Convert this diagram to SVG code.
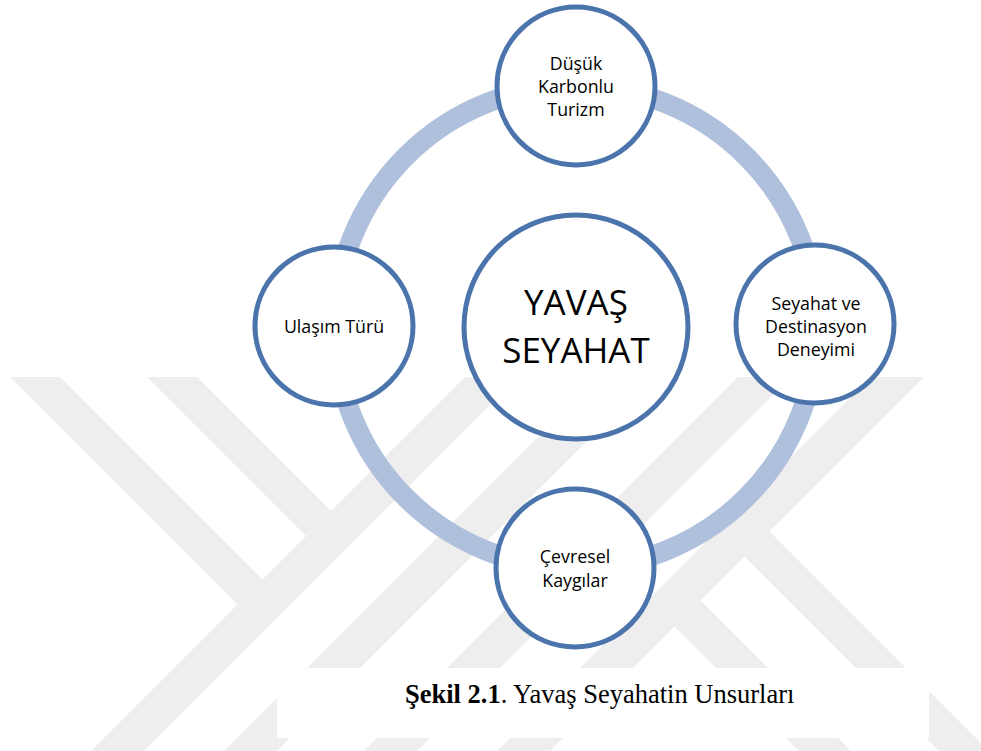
<svg xmlns="http://www.w3.org/2000/svg" width="981" height="751" viewBox="0 0 981 751">
  <style>
    .wm { fill: #eeeeee; }
    .node { fill: #ffffff; stroke: #4a74ab; stroke-width: 5; }
    .lbl { font-family: "Open Sans", "Noto Sans", sans-serif; font-size: 17.8px; fill: #000000; text-anchor: middle; }
    .big { font-family: "Open Sans", "Noto Sans", sans-serif; font-size: 35px; fill: #000000; text-anchor: middle; }
    .cap { font-family: "Liberation Serif", "Times New Roman", serif; font-size: 26.5px; fill: #000000; }
  </style>
  <rect x="0" y="0" width="981" height="751" fill="#ffffff"/>
  <g id="watermark">
    <polygon class="wm" points="10,377 60,377 262.5,579.5 237.5,604.5"/>
    <polygon class="wm" points="147,377 197,377 331,511 306,536"/>
    <polygon class="wm" points="465,377 518,377 144,751 91,751"/>
    <polygon class="wm" points="598,377 651,377 277,751 224,751"/>
    <polygon class="wm" points="738,377 791,377 417,751 364,751"/>
    <polygon class="wm" points="871,377 924,377 550,751 497,751"/>
    <polygon class="wm" points="674.5,626.5 700.5,600.5 851,751 799,751"/>
    <polygon class="wm" points="744.5,556.5 769.5,531.5 989,751 939,751"/>
  </g>
  <rect id="caption-bg" x="277" y="668" width="652" height="70" fill="#ffffff"/>
  <g id="connectors">
    <circle cx="576" cy="327" r="241" fill="none" stroke="#aec0dc" stroke-width="20"/>
  </g>
  <g id="node-center">
    <circle class="node" cx="576" cy="327" r="112"/>
    <text class="big" x="576" y="315">YAVAŞ</text>
    <text class="big" x="576" y="363">SEYAHAT</text>
  </g>
  <g id="node-top">
    <circle class="node" cx="576" cy="86" r="79"/>
    <text class="lbl" x="576" y="70">Düşük</text>
    <text class="lbl" x="576" y="93">Karbonlu</text>
    <text class="lbl" x="576" y="116">Turizm</text>
  </g>
  <g id="node-right">
    <circle class="node" cx="815" cy="324" r="79"/>
    <text class="lbl" x="816" y="310">Seyahat ve</text>
    <text class="lbl" x="816" y="333">Destinasyon</text>
    <text class="lbl" x="816" y="356">Deneyimi</text>
  </g>
  <g id="node-bottom">
    <circle class="node" cx="575" cy="568" r="79"/>
    <text class="lbl" x="575" y="563">Çevresel</text>
    <text class="lbl" x="575" y="587">Kaygılar</text>
  </g>
  <g id="node-left">
    <circle class="node" cx="334" cy="326" r="79"/>
    <text class="lbl" x="334" y="333">Ulaşım Türü</text>
  </g>
  <text class="cap" x="405" y="703"><tspan font-weight="bold">Şekil 2.1</tspan>. Yavaş Seyahatin Unsurları</text>
</svg>
